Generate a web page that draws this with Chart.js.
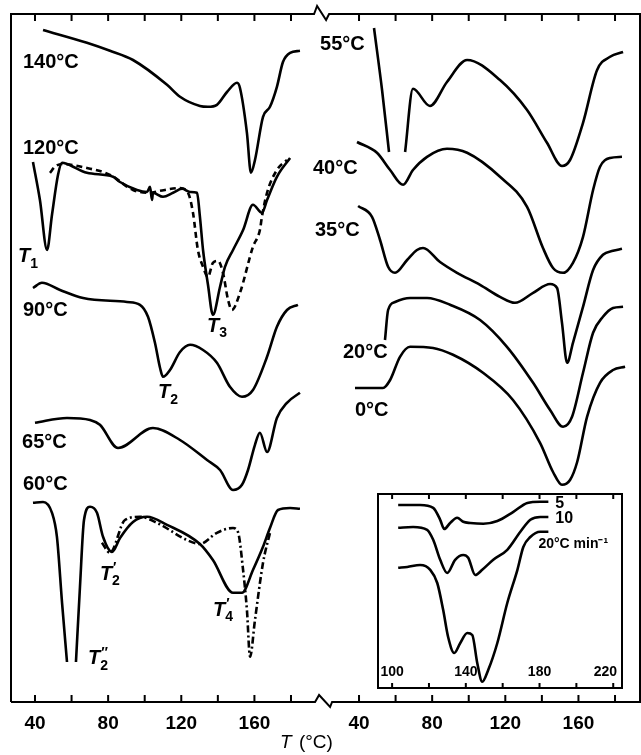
<!DOCTYPE html>
<html lang="en">
<head>
<meta charset="UTF-8">
<title>DSC thermograms</title>
<script src="https://cdn.jsdelivr.net/npm/chart.js"></script>
<style>
  body { margin: 0; background: #fff; }
  #wrap { position: relative; width: 641px; height: 755px; }
  #main { position: absolute; left: 0; top: 0; }
  #inset { position: absolute; left: 377px; top: 493px; background: #fff; }
</style>
</head>
<body>
<div id="wrap">
  <canvas id="main" width="641" height="755"></canvas>
  <canvas id="inset" width="246" height="196"></canvas>
</div>
<script>
// broken temperature axis: right panel temperatures sit OFFSET further along the shared axis
var OFFSET = 177.2;
var BREAK_AT = 197;
var X_MIN = 26.88, X_MAX = 370.86;
var TICKS = [40, 60, 80, 100, 120, 140, 160, 180];
var TICK_LABELS = [40, 80, 120, 160];
var INSET_TICKS = [100, 120, 140, 160, 180, 200, 220];
var INSET_LABELS = [100, 140, 180, 220];

// left panel (annealing temperature 140 ... 60 °C), signal in arbitrary units
var t140 = [44.4, 68.4, 81, 93.6, 112.2, 119.3, 130.2, 134.6, 139.5, 145.0, 150.5, 152.1, 155.9, 158.1, 160.3, 164.7, 168.5, 172.3, 175.6, 179.5, 184.9];
var y140 = [168, 164.8, 162.8, 160.5, 154.3, 151.3, 149, 148.8, 149.3, 152.5, 154.8, 153.5, 142.3, 132.3, 135.5, 146.3, 148.8, 153.8, 160, 162.3, 162.8];

var t120 = [38.9, 42.7, 46.6, 49.3, 52.6, 54.8, 57.5, 68.4, 82.7, 86.5, 95.8, 101.3, 102.9, 104, 104.5, 110, 115.5, 120.4, 124.8, 128.6, 130.2, 131.9, 134.6, 137.3, 141.2, 143.9, 148.3, 153.8, 159.2, 164.1, 166.9, 172.3, 179.5];
var y120 = [135, 125.5, 113, 121.8, 131.8, 134.8, 134.5, 132.3, 131.3, 130, 128, 127.5, 128.8, 125.5, 127.3, 126.3, 127.3, 128.3, 127.5, 127.3, 121.3, 113, 104.3, 96.8, 103.8, 108.8, 113, 118, 124.3, 122.3, 125.5, 131.3, 136];

var t120b = [48.2, 50.9, 54.8, 68.4, 81, 93.6, 102.9, 108.4, 119.3, 123.7, 126.4, 129.1, 131.9, 134.6, 137.3, 140.1, 142.8, 145.6, 147.7, 152.1, 159.2, 163, 164.1, 166.9, 172.3, 177.8];
var y120b = [132.3, 133.8, 134.5, 133.5, 131.8, 128, 127.3, 127.8, 128.5, 127.3, 122.3, 113, 108.8, 106.3, 109.8, 110.3, 107.3, 100.5, 98, 102.3, 113.8, 118, 121.3, 127.3, 133, 135.5];

var t90 = [38.9, 43.8, 53.7, 66.3, 90.3, 97.4, 101.8, 105.6, 108.4, 110, 113.8, 119.3, 124.8, 131.9, 139.5, 146.6, 153.2, 159.2, 166.9, 172.3, 177.8, 183.8];
var y90 = [103.5, 104.8, 103, 101, 100, 99.3, 96.3, 89.8, 83.5, 81.3, 83, 87.5, 89.3, 88, 84.8, 78.8, 76.3, 78, 86.3, 93.8, 98, 99.3];

var t65 = [40, 57.5, 70.1, 75.5, 85.4, 104.5, 119.3, 134.1, 141.2, 148.3, 153.2, 156.5, 160.3, 163, 166.9, 172.3, 177.8, 184.9];
var y65 = [69.8, 71, 70.5, 69.3, 63.5, 68.5, 65.5, 60.5, 58, 53, 54.3, 58, 64.3, 67.3, 62.5, 71, 74.8, 77.3];

var t60 = [38.9, 44.4, 49.3, 52, 54.8, 57.5, 60, 62.4, 64.6, 66.8, 70.1, 73.9, 77.2, 82.1, 86.5, 93.6, 101.3, 112.2, 130.2, 137.3, 148.3, 153.2, 159.2, 164.7, 168.5, 172.9, 179.5, 184.9];
var y60 = [49.8, 50, 47.3, 41.3, 24.8, 10, null, 10, 28.8, 45.5, 48.8, 47.3, 41.3, 37.5, 41, 45, 46.3, 44.3, 39.5, 35.5, 27.3, 27.3, 33, 38.8, 43.5, 48, 48.5, 48.3];

var t60b = [76.6, 81, 89.2, 97.4, 106.7, 123.1, 130.2, 139.5, 148.3, 151, 153.8, 155.9, 157.6, 160.3, 164.7, 168.5];
var y60b = [39.8, 37.3, 45.5, 46.3, 44.8, 40.5, 39.5, 42.3, 43.5, 42.5, 33, 23, 11.3, 20.5, 34.8, 42.3];

// right panel (55 ... 0 °C)
var t55 = [48.2, 52.6, 56.4, 60, 65.2, 69.5, 78.8, 88.1, 99.1, 117.1, 131.9, 142.8, 151, 155.4, 162.5, 170.2, 177.3, 184.4];
var y55 = [168.5, 153, 137.5, null, 137.5, 153.3, 149, 155, 160.5, 155.5, 148, 139.8, 134, 135.5, 144.8, 158, 161.3, 162.5];

var t40 = [38.9, 49.8, 57, 64.1, 69.5, 77.2, 88.1, 99.1, 117.1, 131.9, 140.6, 146.1, 151.6, 157, 162.5, 168, 171.8, 177.3, 183.8];
var y40 = [140, 137.3, 133, 129.3, 133, 136.3, 138.3, 137.3, 131.3, 123.8, 113.5, 108.5, 107.3, 109.8, 116.3, 128, 133.8, 136, 136.3];

var t35 = [39.5, 47.1, 51.5, 55.9, 59.7, 66.3, 71.7, 75, 84.3, 93.6, 106.2, 117.1, 125.3, 135.2, 144.5, 148.3, 151, 153.8, 157, 162.5, 168, 173.4, 178.9, 183.8];
var y35 = [124, 121.3, 115.5, 108.8, 107.3, 110.5, 113, 113.5, 110, 107.3, 104.3, 101.3, 99.8, 102.3, 104.5, 103.5, 94.8, 84.8, 89.8, 98.8, 108, 111.8, 112.8, 113.3];

var t20 = [54.2, 55.9, 59.7, 67.9, 77.2, 89.8, 106.2, 120.9, 135.2, 144.5, 151.6, 156.5, 162.5, 168, 173.4, 178.9, 184.4];
var y20 = [90.5, 98, 100, 101, 101, 99.3, 95.5, 88.8, 79.8, 73, 68.8, 71.3, 82.3, 92.3, 96.3, 98.5, 98.8];

var t0 = [37.8, 53.1, 57, 62.4, 67.9, 80.5, 91.4, 107.8, 124.2, 139, 146.1, 151, 155.4, 159.3, 164.7, 171.8, 178.9, 185.5];
var y0 = [78.5, 78.5, 80.5, 86.3, 88.8, 88.5, 86.8, 82.3, 75.5, 64.8, 57.5, 54.3, 55.5, 60, 71.3, 79.8, 83, 83.8];

// inset: heating rates 5, 10, 20 °C/min
var ti5 = [103.3, 115.2, 122.3, 126.1, 128.3, 131.5, 135.3, 138.6, 142.4, 149.5, 157.1, 165.8, 173.4, 180.4, 184.8];
var yi5 = [46, 46, 45.3, 42.3, 40, 41.5, 42.8, 41.8, 41.5, 41.3, 42, 44.3, 46.5, 46.8, 46.8];
var ti10 = [103.3, 111.4, 119, 122.3, 126.1, 129.9, 134.2, 138.6, 141.3, 145.1, 148.9, 154.9, 162.5, 169.6, 175, 180.4, 184.8];
var yi10 = [40.3, 40.5, 39.8, 37.3, 32.3, 29, 32.3, 33.5, 32.8, 28.5, 29.8, 32.3, 34.8, 39.3, 42.3, 43, 43];
var ti20 = [103.3, 108.2, 115.2, 120.7, 124.5, 127.7, 130.4, 133.7, 137, 140.8, 143.5, 146.2, 148.9, 152.2, 157.1, 162.5, 168, 171.2, 175, 180.4, 184.8];
var yi20 = [30.3, 30.5, 31, 29.8, 26.5, 19.8, 13, 9, 11.5, 14, 13.5, 6.5, 1.8, 4.8, 11.5, 21.5, 29.8, 35.5, 38, 39.3, 39.3];

// text placed in data units (t = temperature of left edge, v = signal)
var CURVE_LABELS = [
  { text: '140°C', t: 33.4, v: 159.8 },
  { text: '120°C', t: 33.4, v: 138.5 },
  { text: '90°C', t: 33.4, v: 97.8 },
  { text: '65°C', t: 32.9, v: 64.8 },
  { text: '60°C', t: 33.4, v: 54.5 },
  { text: '55°C', t: 18.7, v: 164.5, right: true },
  { text: '40°C', t: 14.8, v: 133.3, right: true },
  { text: '35°C', t: 15.9, v: 118, right: true },
  { text: '20°C', t: 31.2, v: 87.3, right: true },
  { text: '0°C', t: 37.8, v: 72.8, right: true }
];
var SYMBOLS = [
  { sub: '1', pr: '', t: 30.7, v: 111.3 },
  { sub: '3', pr: '', t: 134.1, v: 94 },
  { sub: '2', pr: '', t: 107.3, v: 77.3 },
  { sub: '2', pr: '\u2032', t: 75.5, v: 32 },
  { sub: '4', pr: '\u2032', t: 137.3, v: 23 },
  { sub: '2', pr: '\u2033', t: 69, v: 10.8 }
];
var INSET_TEXT = [
  { text: '5', t: 188.6, v: 46.3, size: 16 },
  { text: '10', t: 188.6, v: 42.5, size: 16 },
  { text: '20°C min\u207B\u00B9', t: 179.4, v: 36.3, size: 14 }
];
var TITLE_AT = 174;

var FONT = '"Liberation Sans", Arial, Helvetica, sans-serif';

function series(ts, vs, shift, dash) {
  return {
    data: ts.map(function (t, i) { return { x: t + shift, y: vs[i] }; }),
    borderColor: '#000',
    borderWidth: 2.6,
    borderDash: dash || [],
    pointRadius: 0,
    cubicInterpolationMode: 'monotone',
    fill: false,
    spanGaps: false
  };
}

var DASH = [6, 4];
var DASHDOT = [7, 3, 2, 3];

var framePlugin = {
  id: 'frame',
  afterDraw: function (chart) {
    var ctx = chart.ctx, a = chart.chartArea, x = chart.scales.x, y = chart.scales.y;
    ctx.save();
    ctx.strokeStyle = '#000';
    ctx.fillStyle = '#000';
    ctx.lineWidth = 2;
    var bx = x.getPixelForValue(BREAK_AT);
    ctx.beginPath();
    ctx.moveTo(a.left, a.bottom);
    ctx.lineTo(a.left, a.top);
    ctx.lineTo(bx - 8, a.top);
    ctx.lineTo(bx - 5, a.top - 8);
    ctx.lineTo(bx + 4, a.top + 6);
    ctx.lineTo(bx + 7, a.top);
    ctx.lineTo(a.right, a.top);
    ctx.lineTo(a.right, a.bottom);
    ctx.lineTo(bx + 10, a.bottom);
    ctx.lineTo(bx + 8, a.bottom + 5);
    ctx.lineTo(bx - 3, a.bottom - 7);
    ctx.lineTo(bx - 7, a.bottom);
    ctx.lineTo(a.left, a.bottom);
    ctx.stroke();
    // inward ticks, both panels
    TICKS.forEach(function (t) {
      [t, t + OFFSET].forEach(function (u) {
        var px = x.getPixelForValue(u);
        ctx.beginPath();
        ctx.moveTo(px, a.bottom); ctx.lineTo(px, a.bottom - 7);
        ctx.moveTo(px, a.top); ctx.lineTo(px, a.top + 7);
        ctx.stroke();
      });
    });
    // curve labels
    ctx.textBaseline = 'middle';
    ctx.textAlign = 'left';
    ctx.font = 'bold 20px ' + FONT;
    CURVE_LABELS.forEach(function (l) {
      ctx.fillText(l.text, x.getPixelForValue(l.t + (l.right ? OFFSET : 0)), y.getPixelForValue(l.v));
    });
    SYMBOLS.forEach(function (s) {
      var px = x.getPixelForValue(s.t), py = y.getPixelForValue(s.v);
      ctx.font = 'italic bold 20px ' + FONT;
      ctx.fillText('T', px, py);
      var w = ctx.measureText('T').width;
      ctx.font = 'bold 14px ' + FONT;
      ctx.fillText(s.sub, px + w, py + 7);
      if (s.pr) ctx.fillText(s.pr, px + w + 1, py - 6);
    });
    // axis title
    var tx = x.getPixelForValue(TITLE_AT), ty = a.bottom + 41;
    ctx.font = 'italic 19px ' + FONT;
    ctx.fillText('T', tx, ty);
    var tw = ctx.measureText('T ').width;
    ctx.font = '19px ' + FONT;
    ctx.fillText('(°C)', tx + tw + 2, ty);
    ctx.restore();
  }
};

var insetPlugin = {
  id: 'insetFrame',
  afterDraw: function (chart) {
    var ctx = chart.ctx, a = chart.chartArea, x = chart.scales.x, y = chart.scales.y;
    ctx.save();
    ctx.strokeStyle = '#000';
    ctx.fillStyle = '#000';
    ctx.lineWidth = 2;
    ctx.strokeRect(a.left + 1, a.top + 1, a.right - a.left - 2, a.bottom - a.top - 2);
    INSET_TICKS.forEach(function (t) {
      var px = x.getPixelForValue(t);
      ctx.beginPath();
      ctx.moveTo(px, a.bottom); ctx.lineTo(px, a.bottom - 6);
      ctx.moveTo(px, a.top); ctx.lineTo(px, a.top + 6);
      ctx.stroke();
    });
    ctx.font = 'bold 14px ' + FONT;
    ctx.textBaseline = 'middle';
    ctx.textAlign = 'center';
    INSET_LABELS.forEach(function (t) {
      var px = x.getPixelForValue(t);
      var w = ctx.measureText(String(t)).width;
      px = Math.min(px, a.right - 6 - w / 2);
      ctx.fillText(String(t), px, a.bottom - 17);
    });
    ctx.textAlign = 'left';
    INSET_TEXT.forEach(function (l) {
      ctx.font = 'bold ' + l.size + 'px ' + FONT;
      ctx.fillText(l.text, x.getPixelForValue(l.t), y.getPixelForValue(l.v));
    });
    ctx.restore();
  }
};

new Chart(document.getElementById('main'), {
  type: 'line',
  data: {
    datasets: [
      series(t140, y140, 0),
      series(t120, y120, 0),
      series(t120b, y120b, 0, DASH),
      series(t90, y90, 0),
      series(t65, y65, 0),
      series(t60, y60, 0),
      series(t60b, y60b, 0, DASHDOT),
      series(t55, y55, OFFSET),
      series(t40, y40, OFFSET),
      series(t35, y35, OFFSET),
      series(t20, y20, OFFSET),
      series(t0, y0, OFFSET)
    ]
  },
  options: {
    responsive: false,
    animation: false,
    devicePixelRatio: 1,
    layout: { padding: { left: 11, top: 14, right: 1, bottom: 0 } },
    plugins: { legend: { display: false }, tooltip: { enabled: false } },
    scales: {
      x: {
        type: 'linear',
        min: X_MIN,
        max: X_MAX,
        border: { display: false },
        grid: { display: false, drawTicks: false },
        afterBuildTicks: function (s) {
          var list = [];
          TICK_LABELS.forEach(function (t) { list.push({ value: t }); });
          TICK_LABELS.forEach(function (t) { list.push({ value: t + OFFSET }); });
          s.ticks = list;
        },
        afterFit: function (s) { s.height = 53; },
        ticks: {
          autoSkip: false,
          maxRotation: 0,
          padding: 10,
          color: '#000',
          font: { family: FONT, size: 19, weight: 'bold' },
          callback: function (v) { return v > BREAK_AT ? Math.round(v - OFFSET) : v; }
        }
      },
      y: { display: false, min: 0, max: 172 }
    }
  },
  plugins: [framePlugin]
});

new Chart(document.getElementById('inset'), {
  type: 'line',
  data: {
    datasets: [
      series(ti5, yi5, 0),
      series(ti10, yi10, 0),
      series(ti20, yi20, 0)
    ]
  },
  options: {
    responsive: false,
    animation: false,
    devicePixelRatio: 1,
    layout: { padding: 0 },
    plugins: { legend: { display: false }, tooltip: { enabled: false } },
    scales: {
      x: { type: 'linear', display: false, min: 91.8, max: 225.3 },
      y: { display: false, min: 0, max: 49 }
    }
  },
  plugins: [insetPlugin]
});
</script>
</body>
</html>
